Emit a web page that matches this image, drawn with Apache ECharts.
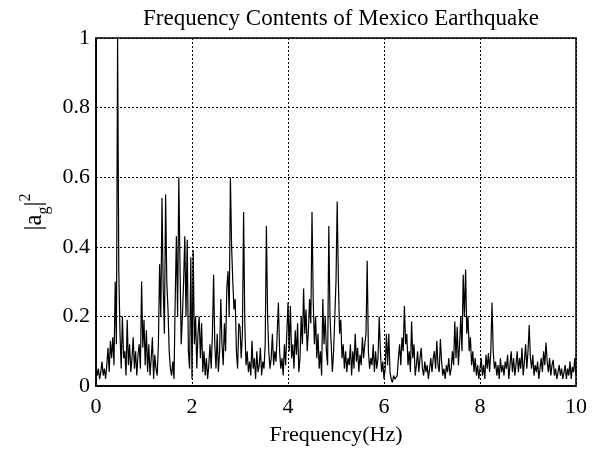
<!DOCTYPE html>
<html>
<head>
<meta charset="utf-8">
<script src="https://cdn.jsdelivr.net/npm/echarts@6/dist/echarts.min.js"></script>
<style>
  html, body { margin: 0; padding: 0; background: #fff; }
  #chart { width: 601px; height: 459px; }
</style>
</head>
<body>
<div id="chart"></div>
<script>
  var freqStep = 0.025;
  var amp = [
    0.06, 0.03, 0.05, 0.02, 0.04, 0.07, 0.03, 0.05, 0.02, 0.06,
    0.11, 0.04, 0.13, 0.08, 0.14, 0.06, 0.30, 0.12, 1.00, 0.33,
    0.15, 0.05, 0.20, 0.08, 0.10, 0.03, 0.19, 0.06, 0.12, 0.04,
    0.08, 0.14, 0.05, 0.10, 0.03, 0.09, 0.12, 0.05, 0.30, 0.11,
    0.19, 0.06, 0.16, 0.04, 0.12, 0.03, 0.08, 0.14, 0.02, 0.09,
    0.05, 0.03, 0.12, 0.35, 0.20, 0.54, 0.28, 0.15, 0.55, 0.30,
    0.22, 0.10, 0.05, 0.03, 0.07, 0.02, 0.25, 0.43, 0.20, 0.60,
    0.35, 0.12, 0.20, 0.30, 0.43, 0.20, 0.42, 0.10, 0.05, 0.37,
    0.02, 0.39, 0.12, 0.20, 0.05, 0.15, 0.20, 0.08, 0.18, 0.04,
    0.10, 0.03, 0.08, 0.02, 0.06, 0.12, 0.05, 0.15, 0.32, 0.12,
    0.05, 0.15, 0.04, 0.10, 0.25, 0.12, 0.06, 0.18, 0.10, 0.28,
    0.33, 0.20, 0.60, 0.40, 0.30, 0.22, 0.25, 0.10, 0.05, 0.18,
    0.17, 0.08, 0.15, 0.50, 0.18, 0.06, 0.10, 0.04, 0.07, 0.03,
    0.13, 0.05, 0.08, 0.02, 0.10, 0.04, 0.06, 0.11, 0.03, 0.07,
    0.05, 0.12, 0.46, 0.20, 0.10, 0.05, 0.08, 0.15, 0.06, 0.10,
    0.07, 0.15, 0.24, 0.10, 0.05, 0.08, 0.03, 0.12, 0.06, 0.15,
    0.24, 0.10, 0.23, 0.08, 0.12, 0.05, 0.16, 0.09, 0.18, 0.04,
    0.08, 0.20, 0.12, 0.28, 0.15, 0.22, 0.10, 0.16, 0.25, 0.18,
    0.50, 0.25, 0.12, 0.20, 0.08, 0.15, 0.05, 0.10, 0.03, 0.25,
    0.12, 0.20, 0.10, 0.06, 0.46, 0.20, 0.12, 0.04, 0.10, 0.20,
    0.30, 0.53, 0.30, 0.15, 0.19, 0.08, 0.12, 0.05, 0.10, 0.04,
    0.08, 0.06, 0.12, 0.03, 0.10, 0.05, 0.15, 0.07, 0.11, 0.04,
    0.09, 0.06, 0.14, 0.08, 0.12, 0.15, 0.36, 0.10, 0.05, 0.08,
    0.06, 0.12, 0.04, 0.10, 0.05, 0.08, 0.20, 0.10, 0.04, 0.07,
    0.02, 0.05, 0.15, 0.06, 0.15, 0.04, 0.02, 0.01, 0.03, 0.02,
    0.02, 0.03, 0.08, 0.12, 0.06, 0.14, 0.10, 0.23, 0.12, 0.15,
    0.06, 0.10, 0.04, 0.185, 0.08, 0.12, 0.03, 0.06, 0.10, 0.04,
    0.08, 0.11, 0.05, 0.03, 0.07, 0.04, 0.06, 0.02, 0.05, 0.08,
    0.04, 0.08, 0.10, 0.05, 0.13, 0.06, 0.04, 0.135, 0.07, 0.03,
    0.05, 0.02, 0.06, 0.04, 0.08, 0.03, 0.05, 0.10, 0.06, 0.185,
    0.08, 0.17, 0.06, 0.12, 0.20, 0.10, 0.32, 0.20, 0.335, 0.15,
    0.20, 0.10, 0.14, 0.06, 0.10, 0.04, 0.08, 0.03, 0.06, 0.02,
    0.05, 0.08, 0.03, 0.06, 0.02, 0.09, 0.05, 0.095, 0.04, 0.10,
    0.24, 0.10, 0.05, 0.07, 0.03, 0.06, 0.02, 0.08, 0.04, 0.06,
    0.03, 0.07, 0.05, 0.09, 0.02, 0.06, 0.10, 0.04, 0.08, 0.03,
    0.06, 0.10, 0.04, 0.08, 0.05, 0.11, 0.03, 0.07, 0.12, 0.05,
    0.10, 0.175, 0.08, 0.05, 0.09, 0.03, 0.06, 0.04, 0.07, 0.02,
    0.05, 0.08, 0.04, 0.10, 0.06, 0.125, 0.07, 0.04, 0.08, 0.03,
    0.06, 0.075, 0.03, 0.05, 0.02, 0.04, 0.06, 0.03, 0.05, 0.02,
    0.04, 0.06, 0.02, 0.05, 0.03, 0.07, 0.02, 0.055, 0.04, 0.08,
    0.03
  ];

  var chart = echarts.init(document.getElementById('chart'));
  var serif = '"Liberation Serif", "DejaVu Serif", serif';
  var points = amp.map(function (v, i) { return [i * freqStep, v]; });

  var dots = { show: true, lineStyle: { color: '#000', width: 1, type: [2, 2] } };

  chart.setOption({
    animation: false,
    backgroundColor: '#fff',
    title: {
      text: 'Frequency Contents of Mexico Earthquake',
      left: 336, top: 2, textAlign: 'center',
      textStyle: { fontFamily: serif, fontSize: 23, fontWeight: 'normal', color: '#000' }
    },
    grid: {
      left: 96, right: 25, top: 38, bottom: 73,
      show: true, borderColor: '#000', borderWidth: 1.5
    },
    xAxis: {
      type: 'value', min: 0, max: 10, interval: 2,
      name: 'Frequency(Hz)', nameLocation: 'middle', nameGap: 38,
      nameTextStyle: { fontFamily: serif, fontSize: 22, color: '#000' },
      axisLine: { show: true, lineStyle: { color: '#000', width: 1.5 } },
      axisTick: { show: false },
      axisLabel: { fontFamily: serif, fontSize: 22, color: '#000', margin: 10 },
      splitLine: dots
    },
    yAxis: {
      type: 'value', min: 0, max: 1, interval: 0.2,
      name: '{n||a}{s|g}{n||}{p|2}', nameLocation: 'middle', nameGap: 42, nameRotate: 90,
      nameTextStyle: {
        fontFamily: serif, fontSize: 25, color: '#000',
        rich: {
          n: { fontFamily: serif, fontSize: 25, color: '#000', lineHeight: 34 },
          s: { fontFamily: serif, fontSize: 16, color: '#000', lineHeight: 34, verticalAlign: 'bottom' },
          p: { fontFamily: serif, fontSize: 16, color: '#000', lineHeight: 34, verticalAlign: 'top' }
        }
      },
      axisLine: { show: true, lineStyle: { color: '#000', width: 1.5 } },
      axisTick: { show: false },
      axisLabel: { fontFamily: serif, fontSize: 22, color: '#000', margin: 6 },
      splitLine: dots
    },
    series: [{
      type: 'line',
      data: points,
      showSymbol: false,
      sampling: null,
      lineStyle: { color: '#000', width: 1.2 }
    }]
  });
</script>
</body>
</html>
